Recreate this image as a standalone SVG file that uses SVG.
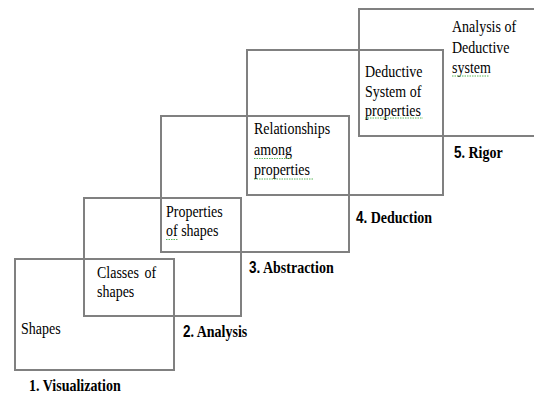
<svg xmlns="http://www.w3.org/2000/svg" width="534" height="394" viewBox="0 0 534 394">
<style>
.box{fill:none;stroke:#808080;stroke-width:2}
.t{font-family:'Liberation Serif','Times New Roman',serif;font-size:14px;fill:#000}
.b{font-weight:bold}
.n{font-family:'Liberation Sans',Arial,sans-serif;font-weight:bold;font-size:13.5px}
.sq{fill:none;stroke:#5cb85c;stroke-width:1;stroke-dasharray:1.5 1}
</style>
<rect width="534" height="394" fill="#fff"/>
<g id="level1">
<rect class="box" x="15" y="259" width="159" height="111"/>
<g transform="translate(21,334) scale(1,1.25)"><text class="t" x="0" y="0">Shapes</text></g>
<g transform="translate(29,391) scale(1,1.25)"><text class="t b" x="0" y="0">1. Visualization</text></g>
</g>
<g id="level2">
<rect class="box" x="84" y="198" width="157" height="118"/>
<g transform="translate(97,278) scale(1,1.25)"><text class="t" style="word-spacing:2px"><tspan x="0" y="0">Classes of</tspan><tspan x="0" y="15.2">shapes</tspan></text></g>
<g transform="translate(183,337) scale(1,1.25)"><text class="t b" x="0" y="0"><tspan class="n">2</tspan>. Analysis</text></g>
</g>
<g id="level3">
<rect class="box" x="161" y="116" width="188" height="136"/>
<g transform="translate(166,217) scale(1,1.25)"><text class="t"><tspan x="0" y="0">Properties</tspan><tspan x="0" y="15.2">of shapes</tspan></text></g>
<path class="sq" d="M166,239.5 H178"/>
<g transform="translate(249,273) scale(1,1.25)"><text class="t b" x="0" y="0"><tspan class="n">3.</tspan> Abstraction</text></g>
</g>
<g id="level4">
<rect class="box" x="247" y="50" width="196" height="145"/>
<g transform="translate(254,134) scale(1,1.25)"><text class="t"><tspan x="0" y="0">Relationships</tspan><tspan x="0" y="16.6">among</tspan><tspan x="0" y="32.8">properties</tspan></text></g>
<path class="sq" d="M254,158.5 H292 M254,179 H313"/>
<g transform="translate(356,223) scale(1,1.25)"><text class="t b" x="0" y="0"><tspan class="n">4.</tspan> Deduction</text></g>
</g>
<g id="level5">
<rect class="box" x="359" y="9" width="186" height="127"/>
<g transform="translate(365,77) scale(1,1.25)"><text class="t"><tspan x="0" y="0">Deductive</tspan><tspan x="0" y="16">System of</tspan><tspan x="0" y="31.2">properties</tspan></text></g>
<path class="sq" d="M365,118 H423"/>
<g transform="translate(452,32) scale(1,1.25)"><text class="t"><tspan x="0" y="0">Analysis of</tspan><tspan x="0" y="16.6">Deductive</tspan><tspan x="0" y="32.8">system</tspan></text></g>
<path class="sq" d="M452,76 H489"/>
<g transform="translate(454,158) scale(1,1.25)"><text class="t b" x="0" y="0"><tspan class="n">5</tspan>. Rigor</text></g>
</g>
<g id="connectors"/>
</svg>
